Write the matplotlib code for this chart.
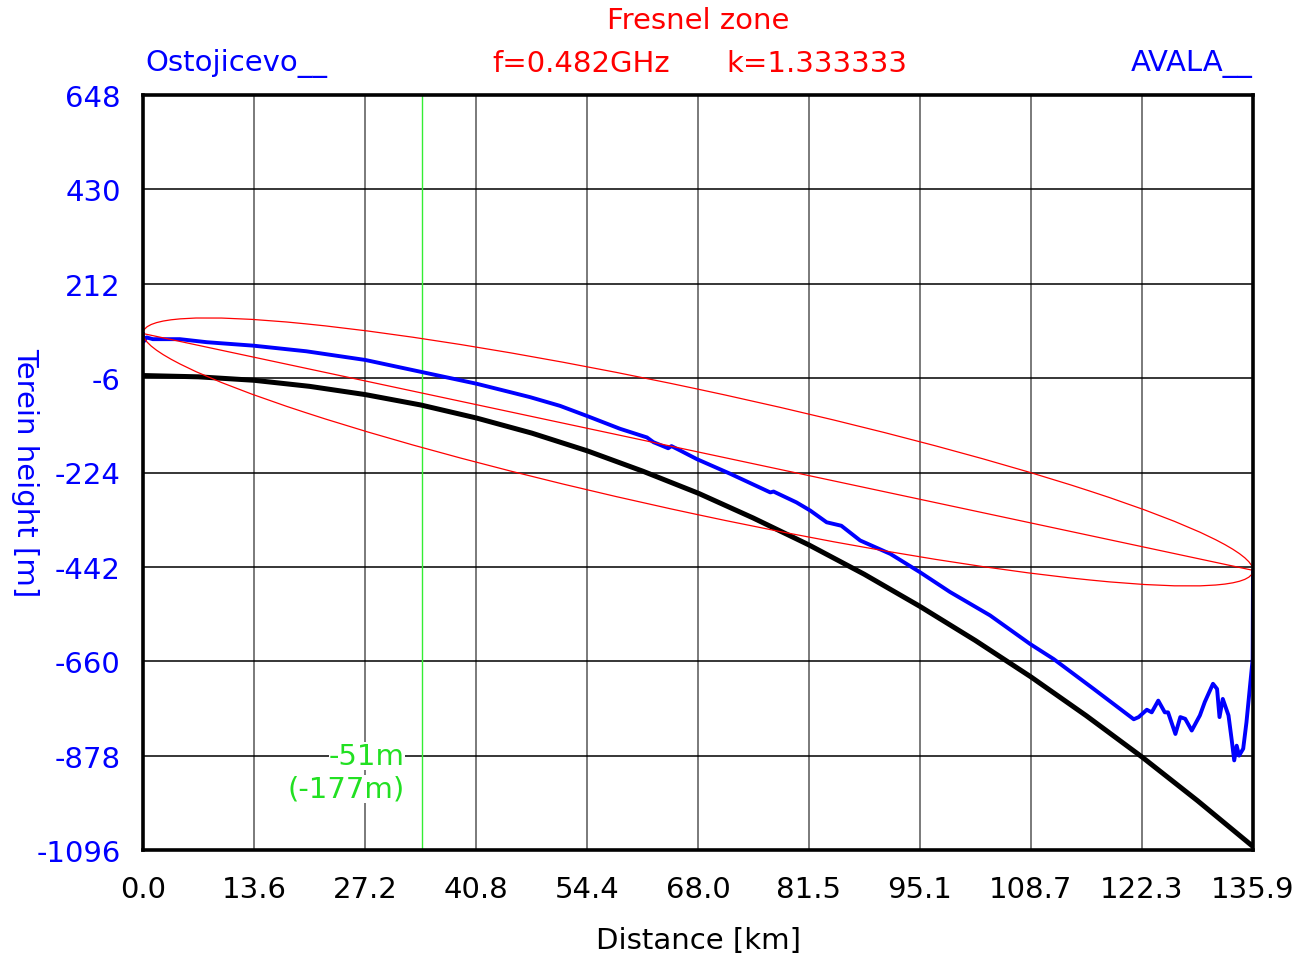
import matplotlib
matplotlib.use("Agg")
from matplotlib import pyplot as plt
from matplotlib.patches import Ellipse
from matplotlib.transforms import Affine2D
import numpy as np

# axis ticks
x_ticks = [0.0, 13.6, 27.2, 40.8, 54.4, 68.0, 81.5, 95.1, 108.7, 122.3, 135.9]
y_ticks = [648, 430, 212, -6, -224, -442, -660, -878, -1096]

# terrain profile (km, m)
profile_km = [0.0, 0.05, 0.45, 1.2, 4.5, 7.8, 13.5, 20.0, 27.2, 33.9, 40.85,
              45.3, 47.4, 51.05, 54.3, 58.4, 61.7, 62.5, 64.3, 64.7, 65.75,
              67.8, 71.9, 76.8, 77.2, 80.0, 81.7, 83.7, 85.5, 87.8,
              91.5, 95.1, 98.8, 103.7, 108.6, 111.5, 116.4, 121.3, 121.9,
              122.9, 123.5, 124.3, 125.1, 125.5, 126.4, 127.0, 127.6, 128.4,
              129.4, 130.0, 131.0, 131.5, 131.8, 132.2, 132.9, 133.3, 133.6,
              133.9, 134.2, 134.7, 135.1, 135.5, 135.86, 135.9]
profile_m = [96, 78, 88, 84, 84, 77, 69, 56, 36, 9, -19,
             -40, -50, -70, -93, -123, -143, -154, -168, -163, -173,
             -193, -227, -270, -268, -293, -312, -339, -347, -381,
             -412, -454, -500, -554, -620, -655, -724, -794, -789,
             -772, -778, -751, -778, -778, -828, -789, -793, -820,
             -785, -754, -712, -724, -789, -747, -785, -843, -889,
             -855, -878, -862, -801, -724, -655, -451]

# earth curvature line for k=1.333333 (read every 6.8 km)
curve_km = [0, 6.8, 13.6, 20.4, 27.2, 34.0, 40.8, 47.6, 54.4, 61.2, 68.0,
            74.7, 81.5, 88.3, 95.1, 101.9, 108.7, 115.5, 122.3, 129.1, 135.9]
curve_m = [0, -3, -11, -25, -44, -68, -98, -133, -174, -221, -272,
           -329, -391, -459, -533, -612, -696, -786, -881, -982, -1088]

# Fresnel zone: line of sight ends and max radius
los_start, los_end = 97, -450
path_len = 135.9
fresnel_r = 145

marker_km = 34.1

W, H = 1313, 962
fig = plt.figure(figsize=(W / 100, H / 100), dpi=100)
ax = fig.add_axes([143 / W, 1 - 851 / H, (1253 - 143) / W, (851 - 96) / H])
ax.set_xlim(0, 135.9)
ax.set_ylim(-1096, 648)

fs = 21
ax.set_xticks(x_ticks)
ax.set_xticklabels([f"{v:.1f}" for v in x_ticks])
ax.set_yticks(y_ticks)
ax.set_yticklabels([str(v) for v in y_ticks])
ax.tick_params(axis="x", length=0, pad=18, labelsize=fs, labelcolor="black")
ax.tick_params(axis="y", length=0, pad=16, labelsize=fs, labelcolor="blue")

for v in x_ticks[1:-1]:
    ax.axvline(v, color="#7a7a7a", lw=1.4, zorder=1)
for v in y_ticks[1:-1]:
    ax.axhline(v, color="black", lw=1.1, zorder=1)

for s in ax.spines.values():
    s.set_linewidth(2.6)
    s.set_zorder(6)

ax.axvline(marker_km, color="#33ee33", lw=1.0, zorder=2)

ax.plot(curve_km, curve_m, color="black", lw=3.6, zorder=3, solid_capstyle="butt")
ax.plot(profile_km, profile_m, color="blue", lw=2.8, zorder=4)

slope = (los_end - los_start) / path_len
ax.plot([0, path_len], [los_start, los_end], color="red", lw=0.9, zorder=5)
shear = Affine2D(np.array([[1, 0, 0], [slope, 1, los_start], [0, 0, 1]]))
ell = Ellipse((path_len / 2, 0), width=path_len, height=2 * fresnel_r,
              fill=False, ec="red", lw=0.9, zorder=5,
              transform=shear + ax.transData)
ax.add_patch(ell)

ax.text(405 / W, 1 - 757 / H, "-51m", transform=fig.transFigure, color="#22e022",
        fontsize=fs, ha="right", va="center", zorder=7,
        bbox=dict(facecolor="white", edgecolor="none", pad=0))
ax.text(405 / W, 1 - 790 / H, "(-177m)", transform=fig.transFigure, color="#22e022",
        fontsize=fs, ha="right", va="center", zorder=7,
        bbox=dict(facecolor="white", edgecolor="none", pad=0))

fig.text(698 / W, 1 - 21 / H, "Fresnel zone", color="red", fontsize=fs, ha="center", va="center")
fig.text(145 / W, 1 - 64 / H, "Ostojicevo__", color="blue", fontsize=fs, ha="left", va="center")
fig.text(581 / W, 1 - 64 / H, "f=0.482GHz", color="red", fontsize=fs, ha="center", va="center")
fig.text(817 / W, 1 - 64 / H, "k=1.333333", color="red", fontsize=fs, ha="center", va="center")
fig.text(1253 / W, 1 - 64 / H, "AVALA__", color="blue", fontsize=fs, ha="right", va="center")
fig.text(698 / W, 1 - 941 / H, "Distance [km]", color="black", fontsize=fs, ha="center", va="center")
fig.text(25 / W, 1 - 473 / H, "Terein height [m]", color="blue", fontsize=fs,
         ha="center", va="center", rotation=270)

fig.savefig("out.png", dpi=100)
